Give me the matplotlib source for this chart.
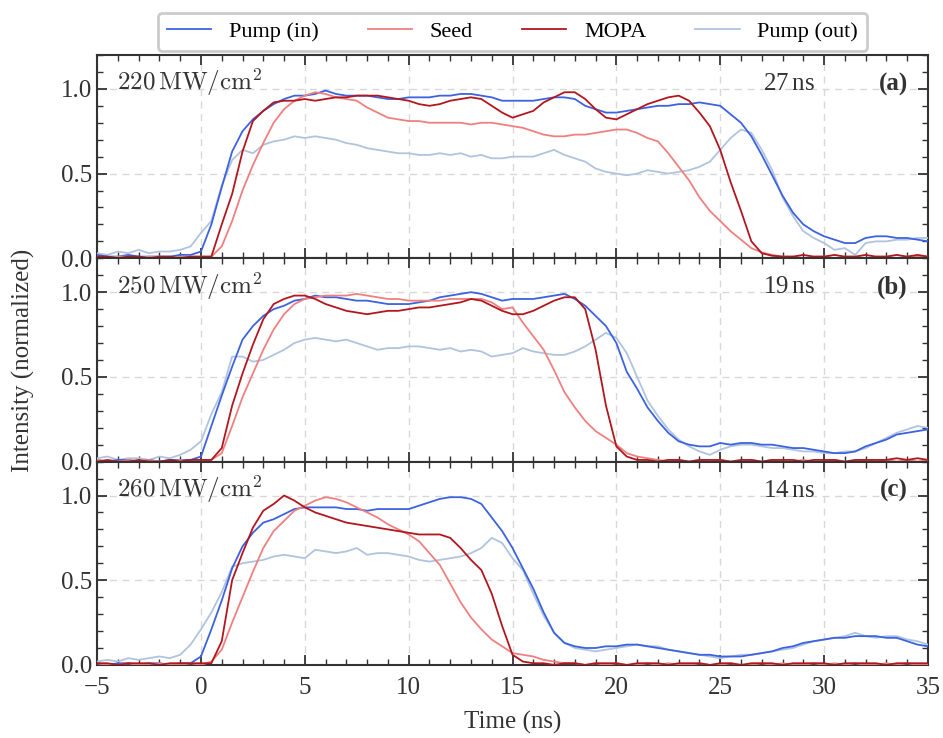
import matplotlib
matplotlib.use("Agg")
import matplotlib.pyplot as plt
import numpy as np
from matplotlib.ticker import MultipleLocator

plt.rcParams['font.family'] = ['Liberation Serif', 'DejaVu Serif']
plt.rcParams['mathtext.fontset'] = 'cm'
plt.rcParams['axes.unicode_minus'] = True

# time axis (ns), 0.5 ns steps from -5 to 35
t = np.arange(-5, 35.01, 0.5)

# ---- panel (a): 220 MW/cm2
pump_in_a = [0.02,0.01,0.01,0.02,0.01,0.01,0.01,0.01,0.02,0.02,
             0.04,0.20,0.42,0.63,0.75,0.82,0.87,0.91,0.94,0.96,
             0.96,0.97,0.99,0.97,0.96,0.96,0.96,0.95,0.94,0.94,
             0.95,0.95,0.95,0.96,0.96,0.97,0.97,0.96,0.95,0.93,
             0.93,0.93,0.93,0.94,0.95,0.95,0.94,0.90,0.88,0.86,
             0.86,0.87,0.88,0.89,0.90,0.90,0.91,0.91,0.92,0.91,
             0.90,0.85,0.80,0.72,0.61,0.49,0.37,0.27,0.20,0.16,
             0.13,0.11,0.09,0.09,0.12,0.13,0.13,0.12,0.12,0.11,
             0.10]
seed_a = [0.01,0.00,0.01,0.01,0.00,0.01,0.01,0.00,0.01,0.01,
          0.01,0.01,0.07,0.22,0.40,0.55,0.68,0.80,0.88,0.93,
          0.96,0.98,0.97,0.95,0.94,0.93,0.89,0.86,0.83,0.82,
          0.81,0.81,0.80,0.80,0.80,0.80,0.79,0.80,0.80,0.79,
          0.78,0.77,0.75,0.73,0.72,0.72,0.73,0.73,0.74,0.75,
          0.76,0.76,0.74,0.71,0.69,0.62,0.54,0.46,0.36,0.28,
          0.22,0.16,0.11,0.06,0.035,0.02,0.01,0.01,0.00,0.01,
          0.01,0.00,0.01,0.01,0.00,0.01,0.01,0.00,0.01,0.01,
          0.01]
mopa_a = [0.01,0.01,0.00,0.01,0.01,0.00,0.01,0.01,0.00,0.01,
          0.01,0.01,0.20,0.38,0.63,0.81,0.87,0.92,0.93,0.93,
          0.94,0.93,0.94,0.95,0.95,0.96,0.96,0.96,0.95,0.94,
          0.93,0.91,0.90,0.91,0.93,0.94,0.95,0.94,0.90,0.86,
          0.83,0.85,0.87,0.92,0.95,0.98,0.98,0.94,0.88,0.83,
          0.82,0.85,0.88,0.91,0.93,0.95,0.96,0.93,0.86,0.78,
          0.64,0.45,0.28,0.10,0.03,0.015,0.01,0.01,0.02,0.01,
          0.01,0.02,0.01,0.01,0.02,0.01,0.01,0.02,0.01,0.02,
          0.01]
pump_out_a = [0.03,0.02,0.04,0.03,0.05,0.03,0.04,0.04,0.05,0.07,
              0.15,0.22,0.43,0.58,0.64,0.62,0.67,0.69,0.70,0.72,
              0.71,0.72,0.71,0.70,0.68,0.67,0.65,0.64,0.63,0.62,
              0.62,0.61,0.61,0.62,0.61,0.62,0.60,0.61,0.59,0.59,
              0.60,0.60,0.60,0.62,0.64,0.61,0.59,0.57,0.53,0.51,
              0.50,0.49,0.50,0.52,0.51,0.50,0.51,0.52,0.54,0.57,
              0.64,0.71,0.76,0.74,0.64,0.52,0.36,0.25,0.16,0.12,
              0.09,0.05,0.06,0.02,0.09,0.10,0.10,0.11,0.11,0.12,
              0.12]

# ---- panel (b): 250 MW/cm2
pump_in_b = [0.01,0.00,0.01,0.01,0.00,0.01,0.00,0.01,0.01,0.01,
             0.03,0.21,0.39,0.56,0.72,0.80,0.86,0.90,0.92,0.95,
             0.96,0.98,0.97,0.97,0.96,0.95,0.95,0.94,0.93,0.93,
             0.93,0.94,0.95,0.97,0.98,0.99,1.00,0.99,0.97,0.95,
             0.96,0.96,0.96,0.97,0.98,0.99,0.96,0.92,0.86,0.80,
             0.70,0.53,0.43,0.32,0.24,0.17,0.12,0.10,0.09,0.09,
             0.11,0.10,0.11,0.11,0.10,0.10,0.09,0.08,0.08,0.07,
             0.06,0.05,0.05,0.06,0.09,0.11,0.13,0.16,0.17,0.18,
             0.19]
seed_b = [0.01,0.00,0.00,0.01,0.00,0.01,0.00,0.00,0.01,0.00,
          0.00,0.01,0.05,0.21,0.38,0.52,0.66,0.78,0.87,0.93,
          0.96,0.97,0.98,0.98,0.98,0.99,0.98,0.97,0.96,0.96,
          0.95,0.95,0.95,0.95,0.96,0.96,0.96,0.96,0.94,0.90,
          0.91,0.82,0.74,0.66,0.54,0.41,0.32,0.24,0.18,0.14,
          0.10,0.05,0.03,0.02,0.01,0.00,0.01,0.00,0.01,0.00,
          0.01,0.00,0.00,0.01,0.00,0.01,0.00,0.00,0.01,0.00,
          0.00,0.01,0.00,0.00,0.01,0.00,0.01,0.00,0.01,0.00,
          0.01]
mopa_b = [0.00,0.01,0.00,0.00,0.01,0.00,0.00,0.01,0.00,0.01,
          0.01,0.01,0.08,0.33,0.52,0.69,0.84,0.93,0.96,0.98,
          0.98,0.96,0.93,0.91,0.89,0.88,0.87,0.88,0.89,0.89,
          0.90,0.91,0.91,0.92,0.93,0.94,0.96,0.95,0.92,0.89,
          0.87,0.87,0.89,0.92,0.95,0.97,0.97,0.90,0.66,0.33,
          0.09,0.03,0.01,0.01,0.00,0.01,0.01,0.00,0.01,0.01,
          0.01,0.00,0.01,0.01,0.00,0.01,0.01,0.01,0.00,0.01,
          0.01,0.01,0.00,0.01,0.01,0.01,0.01,0.02,0.01,0.02,
          0.01]
pump_out_b = [0.02,0.03,0.01,0.02,0.02,0.01,0.03,0.02,0.04,0.07,
              0.12,0.28,0.41,0.62,0.62,0.59,0.60,0.63,0.66,0.70,
              0.72,0.73,0.72,0.71,0.72,0.70,0.68,0.66,0.67,0.67,
              0.68,0.68,0.67,0.66,0.67,0.65,0.66,0.65,0.62,0.63,
              0.64,0.67,0.65,0.64,0.63,0.63,0.65,0.68,0.72,0.76,
              0.73,0.64,0.50,0.36,0.27,0.19,0.13,0.09,0.06,0.04,
              0.07,0.09,0.10,0.10,0.09,0.08,0.08,0.07,0.06,0.06,
              0.05,0.05,0.06,0.06,0.08,0.11,0.14,0.17,0.19,0.21,
              0.20]

# ---- panel (c): 260 MW/cm2
pump_in_c = [0.01,0.00,0.01,0.01,0.00,0.01,0.01,0.00,0.01,0.01,
             0.05,0.21,0.38,0.57,0.70,0.78,0.84,0.86,0.89,0.92,
             0.93,0.93,0.93,0.93,0.92,0.92,0.91,0.92,0.92,0.92,
             0.92,0.94,0.96,0.98,0.99,0.99,0.98,0.95,0.87,0.79,
             0.69,0.57,0.45,0.31,0.19,0.13,0.11,0.10,0.10,0.11,
             0.11,0.12,0.12,0.11,0.10,0.09,0.08,0.07,0.06,0.06,
             0.05,0.05,0.05,0.06,0.07,0.08,0.10,0.11,0.13,0.14,
             0.15,0.16,0.16,0.17,0.17,0.17,0.16,0.16,0.14,0.12,
             0.11]
seed_c = [0.01,0.00,0.00,0.01,0.00,0.00,0.01,0.00,0.00,0.01,
          0.00,0.02,0.09,0.25,0.40,0.55,0.69,0.79,0.85,0.91,
          0.94,0.97,0.99,0.98,0.96,0.93,0.90,0.87,0.83,0.80,
          0.77,0.73,0.66,0.59,0.48,0.37,0.28,0.21,0.15,0.11,
          0.07,0.06,0.05,0.03,0.02,0.01,0.01,0.00,0.01,0.00,
          0.01,0.00,0.00,0.01,0.00,0.01,0.00,0.00,0.01,0.00,
          0.00,0.01,0.00,0.00,0.01,0.00,0.01,0.00,0.00,0.01,
          0.00,0.01,0.00,0.01,0.00,0.00,0.01,0.00,0.01,0.00,
          0.00]
mopa_c = [0.01,0.01,0.00,0.01,0.01,0.01,0.00,0.01,0.01,0.01,
          0.01,0.01,0.14,0.50,0.66,0.81,0.91,0.95,1.00,0.97,
          0.93,0.90,0.88,0.86,0.84,0.83,0.82,0.81,0.80,0.79,
          0.78,0.77,0.77,0.77,0.75,0.69,0.62,0.56,0.42,0.23,
          0.06,0.02,0.01,0.01,0.00,0.01,0.01,0.00,0.01,0.01,
          0.01,0.00,0.01,0.01,0.01,0.00,0.01,0.01,0.01,0.00,
          0.01,0.01,0.00,0.01,0.01,0.01,0.00,0.01,0.01,0.01,
          0.01,0.00,0.01,0.01,0.01,0.01,0.00,0.01,0.01,0.01,
          0.01]
pump_out_c = [0.02,0.03,0.02,0.04,0.03,0.04,0.05,0.04,0.06,0.12,
              0.21,0.31,0.43,0.58,0.60,0.61,0.62,0.64,0.65,0.64,
              0.63,0.68,0.67,0.66,0.67,0.69,0.65,0.66,0.66,0.65,
              0.64,0.62,0.61,0.62,0.63,0.64,0.66,0.69,0.75,0.72,
              0.63,0.56,0.42,0.29,0.19,0.13,0.10,0.09,0.08,0.09,
              0.10,0.11,0.12,0.11,0.11,0.09,0.08,0.07,0.06,0.05,
              0.04,0.05,0.06,0.06,0.07,0.08,0.09,0.10,0.12,0.14,
              0.15,0.16,0.17,0.19,0.17,0.16,0.17,0.17,0.15,0.14,
              0.12]

labels = ['Pump (in)', 'Seed', 'MOPA', 'Pump (out)']
colors = ['#3c62e0', '#f08080', '#b2171e', '#b0c4de']
fluences = ['220', '250', '260']
durations = ['27', '19', '14']
tags = ['(a)', '(b)', '(c)']
panels = [
    [pump_in_a, seed_a, mopa_a, pump_out_a],
    [pump_in_b, seed_b, mopa_b, pump_out_b],
    [pump_in_c, seed_c, mopa_c, pump_out_c],
]

fig, axes = plt.subplots(3, 1, figsize=(9.43, 7.38), dpi=100, sharex=True)
fig.subplots_adjust(left=0.103, right=0.984, top=0.9255, bottom=0.099, hspace=0)

for i, ax in enumerate(axes):
    # draw order: pump out at back, then pump in, seed, mopa
    for k in [3, 0, 1, 2]:
        ax.plot(t, panels[i][k], color=colors[k], lw=1.3, label=labels[k], zorder=3)
    ax.set_xlim(-5, 35)
    ax.set_ylim(0, 1.2)
    ax.xaxis.set_major_locator(MultipleLocator(5))
    ax.xaxis.set_minor_locator(MultipleLocator(1))
    ax.set_yticks([0, 0.5, 1.0])
    ax.yaxis.set_minor_locator(MultipleLocator(0.1))
    ax.grid(True, which='major', ls=(0, (5, 4)), color='#d8d8d8', lw=1.0, zorder=0)
    ax.tick_params(which='both', direction='in', top=True, right=True,
                   labelsize=18, colors='#333333')
    ax.tick_params(which='major', length=7, width=1.3)
    ax.tick_params(which='minor', length=4, width=1.0)
    ax.tick_params(axis='x', pad=9)
    for s in ax.spines.values():
        s.set_linewidth(1.5)
        s.set_color('#333333')
    ax.text(0.024, 0.865, r'$\mathrm{' + fluences[i] + r'\,MW/cm^2}$',
            transform=ax.transAxes, fontsize=18, va='center', ha='left', color='#333333')
    ax.text(0.864, 0.857, durations[i] + r'$\,$ns', transform=ax.transAxes,
            fontsize=18, va='center', ha='right', color='#333333')
    ax.text(0.976, 0.857, tags[i], transform=ax.transAxes, fontsize=18,
            fontweight='bold', va='center', ha='right', color='#333333')

axes[2].set_xlabel('Time (ns)', fontsize=18, color='#333333', labelpad=8)
fig.text(0.025, 0.512, 'Intensity (normalized)', rotation=90, fontsize=18,
         va='center', ha='center', color='#333333')

h, l = axes[0].get_legend_handles_labels()
order = [1, 2, 3, 0]
leg = axes[0].legend([h[j] for j in order], [l[j] for j in order], ncol=4,
                     loc='lower center', bbox_to_anchor=(0.5, 1.02), fontsize=16,
                     frameon=True, fancybox=True, edgecolor='#cccccc',
                     framealpha=1, columnspacing=2.2, handlelength=2.0,
                     borderaxespad=0)
leg.get_frame().set_linewidth(2)

fig.savefig('out.png', dpi=100)
